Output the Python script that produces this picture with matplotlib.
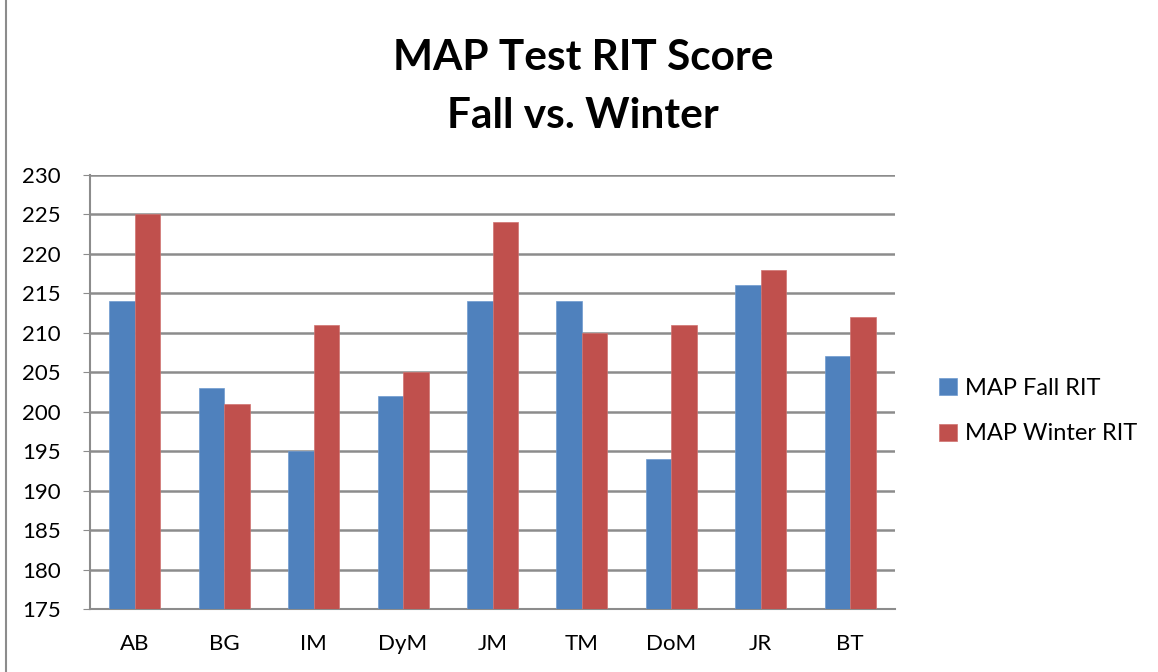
import matplotlib
matplotlib.use("Agg")
import matplotlib.pyplot as plt
import numpy as np
from matplotlib.patches import Rectangle

categories = ["AB", "BG", "IM", "DyM", "JM", "TM", "DoM", "JR", "BT"]
fall = [214, 203, 195, 202, 214, 214, 194, 216, 207]
winter = [225, 201, 211, 205, 224, 210, 211, 218, 212]
series_names = ["MAP Fall RIT", "MAP Winter RIT"]
yticks = list(range(175, 231, 5))

plt.rcParams['font.family'] = ['Lato', 'DejaVu Sans']

fig = plt.figure(figsize=(11.58, 6.72), dpi=100)
fig.patches.append(Rectangle((6/1158, -0.1), 1.2, 1.2, transform=fig.transFigure,
                             fill=False, edgecolor='#8c8c8c', linewidth=1.5))
ax = fig.add_axes([90/1158, 1 - 609/672, 805/1158, (609 - 175)/672])

x = np.arange(len(categories))
w = 0.285
blue = '#4f81bd'
red = '#c0504d'
ax.bar(x - w/2, np.array(fall) - 175, w, bottom=175, color=blue, label=series_names[0],
       edgecolor='#6f9ad0', linewidth=0.5, zorder=3)
ax.bar(x + w/2, np.array(winter) - 175, w, bottom=175, color=red, label=series_names[1],
       edgecolor='#d07370', linewidth=0.5, zorder=3)

ax.set_xlim(-0.5, len(categories) - 0.5)
ax.set_ylim(175, 230)
ax.set_yticks(yticks)
ax.set_xticks(x)
ax.set_xticklabels(categories, fontsize=16)
ax.tick_params(axis='y', labelsize=16, length=5, color='#8c8c8c', pad=16)
ax.tick_params(axis='x', length=0, pad=18)
ax.grid(axis='y', color='#8c8c8c', linewidth=1.8, zorder=0)
for s in ['top', 'right']:
    ax.spines[s].set_visible(False)
for s in ['left', 'bottom']:
    ax.spines[s].set_color('#8c8c8c')
    ax.spines[s].set_linewidth(1.5)

fig.text(583/1158, 1 - 58/672, "MAP Test RIT Score", ha='center', va='center',
         fontsize=30.5, fontweight='bold')
fig.text(583/1158, 1 - 116/672, "Fall vs. Winter", ha='center', va='center',
         fontsize=30.5, fontweight='bold')

leg = fig.legend(loc='center left', bbox_to_anchor=(918/1158, 1 - 411/672),
                 frameon=False, fontsize=17, handlelength=0.75, handleheight=0.75,
                 labelspacing=1.05, handletextpad=0.35)

fig.savefig("out.png", dpi=100)
